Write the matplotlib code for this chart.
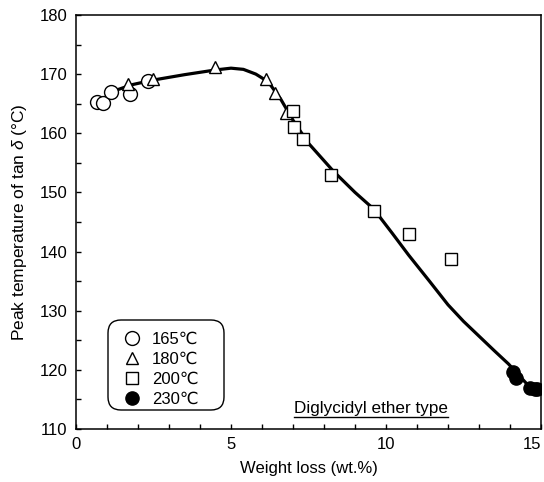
import matplotlib
matplotlib.use("Agg")
import matplotlib.pyplot as plt
from matplotlib.ticker import MultipleLocator
from matplotlib.patches import FancyBboxPatch

plt.rcParams['font.family'] = ['Liberation Sans', 'DejaVu Sans']
plt.rcParams['mathtext.fontset'] = 'custom'
plt.rcParams['mathtext.it'] = 'Liberation Sans:italic'

# measured points, one set per cure temperature
x_165 = [0.67, 0.86, 1.12, 1.74, 2.33]
y_165 = [165.2, 165.1, 166.9, 166.7, 168.8]

x_180 = [1.69, 2.49, 4.48, 6.12, 6.42, 6.77]
y_180 = [168.3, 169.1, 171.2, 169.1, 166.8, 163.5]

x_200 = [6.99, 7.04, 7.33, 8.23, 9.61, 10.73, 12.11]
y_200 = [163.8, 161.0, 159.0, 152.9, 146.8, 142.9, 138.8]

x_230 = [14.11, 14.18, 14.65, 14.81, 14.88]
y_230 = [119.6, 118.7, 117.0, 116.8, 116.8]

# hand-drawn trend line
curve_x = [0.85, 1.2, 1.8, 2.5, 3.5, 4.5, 5.0, 5.4, 5.8, 6.2, 6.6, 7.0, 7.5,
           8.3, 9.0, 9.6, 10.2, 10.73, 11.4, 12.0, 12.5, 13.0, 13.5, 13.95,
           14.3, 14.6, 14.85, 15.0]
curve_y = [165.7, 167.1, 168.2, 169.0, 169.9, 170.7, 171.0, 170.8, 170.0,
           168.7, 165.8, 162.2, 158.3, 153.6, 150.0, 147.2, 143.1, 139.4,
           135.0, 131.0, 128.2, 125.7, 123.2, 121.0, 119.0, 117.3, 117.0,
           117.0]

labels = ['165℃', '180℃', '200℃', '230℃']
xticks = [0, 5, 10, 15]

fig = plt.figure(figsize=(5.44, 4.82), dpi=100)
ax = fig.add_axes([0.1397, 0.110, 0.8548, 0.859])

ax.plot(curve_x, curve_y, color='black', linewidth=2.3, zorder=2,
        solid_capstyle='round', solid_joinstyle='round')

mk = dict(linestyle='none', markeredgecolor='black', markeredgewidth=1.0, zorder=3)
ax.plot(x_165, y_165, marker='o', markersize=10, markerfacecolor='white', label=labels[0], **mk)
ax.plot(x_180, y_180, marker='^', markersize=8.5, markerfacecolor='white', label=labels[1], **mk)
ax.plot(x_200, y_200, marker='s', markersize=8.5, markerfacecolor='white', label=labels[2], **mk)
ax.plot(x_230, y_230, marker='o', markersize=9.5, markerfacecolor='black', label=labels[3], **mk)

ax.set_xlim(0, 15)
ax.set_ylim(110, 180)
# last x label is drawn right-aligned so it stays inside the figure
ax.set_xticks(xticks, [str(v) for v in xticks[:-1]] + [''])
ax.xaxis.set_minor_locator(MultipleLocator(1))
ax.yaxis.set_major_locator(MultipleLocator(10))
ax.yaxis.set_minor_locator(MultipleLocator(5))
ax.tick_params(which='both', direction='in', length=3.5, width=1, labelsize=12, pad=6)
ax.annotate(str(xticks[-1]), xy=(xticks[-1], 0), xycoords=('data', 'axes fraction'),
            xytext=(0.5, -6), textcoords='offset points', ha='right', va='top',
            fontsize=12, annotation_clip=False)

for s in ax.spines.values():
    s.set_linewidth(1.1)

ax.set_xlabel('Weight loss (wt.%)', fontsize=12, labelpad=6)
ax.set_ylabel(r'Peak temperature of tan $\mathit{\delta}$ (°C)', fontsize=12.5, labelpad=8)

leg = ax.legend(loc='center left', bbox_to_anchor=(0.103, 0.145), fontsize=12,
                frameon=False, handlelength=1.0, handletextpad=0.7,
                labelspacing=0.3, borderpad=0, borderaxespad=0)

# rounded frame round the legend
box = FancyBboxPatch((1.08, 0.72), 1.16, 0.90, boxstyle='round,pad=0,rounding_size=0.13',
                     transform=fig.dpi_scale_trans, facecolor='white',
                     edgecolor='black', linewidth=1.0, zorder=4)
ax.add_artist(box)
leg.set_zorder(5)

t = ax.text(9.52, 112.65, 'Diglycidyl ether type', fontsize=12.3,
            ha='center', va='baseline')
fig.canvas.draw()
bb = t.get_window_extent().transformed(ax.transData.inverted())
ax.plot([bb.x0, bb.x1], [bb.y0 - 0.1, bb.y0 - 0.1], color='black', linewidth=1.0)

fig.savefig('out.png', dpi=100)
